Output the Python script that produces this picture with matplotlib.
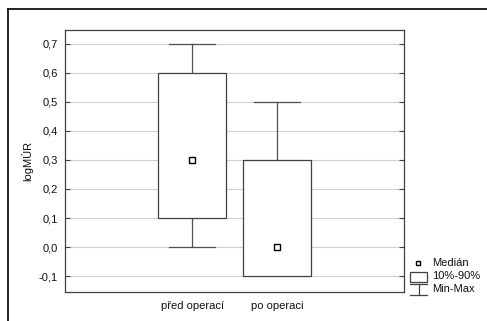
import matplotlib
matplotlib.use("Agg")
import matplotlib.pyplot as plt
from matplotlib.ticker import FuncFormatter, MultipleLocator
from matplotlib.patches import Rectangle
from matplotlib.lines import Line2D

categories = ["před operací", "po operaci"]
medians = [0.3, 0.0]
p10 = [0.1, -0.1]
p90 = [0.6, 0.3]
mins = [0.0, -0.1]
maxs = [0.7, 0.5]
positions = [1, 2]

plt.rcParams['font.family'] = ['Liberation Sans', 'DejaVu Sans']
fig = plt.figure(figsize=(4.87, 3.21), dpi=100)
W, H = 487, 321
ax = fig.add_axes([65 / W, 1 - 292 / H, (404 - 65) / W, (292 - 30) / H])

ax.set_xlim(-0.5, 3.5)
ax.set_ylim(-0.155, 0.748)
ax.yaxis.set_major_locator(MultipleLocator(0.1))
ax.yaxis.set_major_formatter(FuncFormatter(lambda v, p: f"{v:.1f}".replace('.', ',').replace('-0,0', '0,0')))
ax.grid(axis='y', color='#d0d0d0', linewidth=0.8, zorder=0)
ax.set_axisbelow(True)

bw = 0.8
cw = 0.55
for x, md, lo, hi, mn, mx in zip(positions, medians, p10, p90, mins, maxs):
    ax.add_patch(Rectangle((x - bw / 2, lo), bw, hi - lo, facecolor='white',
                           edgecolor='#404040', linewidth=0.9, zorder=3))
    if mx > hi:
        ax.plot([x, x], [hi, mx], color='#505050', lw=0.9, zorder=2)
        ax.plot([x - cw / 2, x + cw / 2], [mx, mx], color='#505050', lw=0.9, zorder=2)
    if mn < lo:
        ax.plot([x, x], [mn, lo], color='#505050', lw=0.9, zorder=2)
        ax.plot([x - cw / 2, x + cw / 2], [mn, mn], color='#505050', lw=0.9, zorder=2)
    ax.plot([x], [md], marker='s', markersize=4, markerfacecolor='white',
            markeredgecolor='black', markeredgewidth=1.0, linestyle='none', zorder=4)

ax.set_xticks(positions)
ax.set_xticklabels(categories, fontsize=8, color='#111111')
ax.tick_params(axis='x', length=0, pad=6.5)
ax.tick_params(axis='y', labelsize=8, length=3.5, direction='in', right=True,
               color='#404040', pad=5, labelcolor='#111111')
ax.set_ylabel("logMÚR", fontsize=8, labelpad=4, color='#111111')
for s in ax.spines.values():
    s.set_color('#404040')
    s.set_linewidth(0.9)

# legend
fig.add_artist(Rectangle((416 / W, 1 - 265 / H), 4 / W, 4 / H, transform=fig.transFigure,
                         facecolor='white', edgecolor='black', lw=1.0))
fig.text(432 / W, 1 - 263 / H, "Medián", fontsize=8, va='center', color='#111111')
fig.add_artist(Rectangle((410 / W, 1 - 282 / H), 17 / W, 10 / H, transform=fig.transFigure,
                         facecolor='white', edgecolor='#404040', lw=0.9))
fig.text(432 / W, 1 - 276 / H, "10%-90%", fontsize=8, va='center', color='#111111')
fig.add_artist(Line2D([410 / W, 427 / W], [1 - 284 / H, 1 - 284 / H], transform=fig.transFigure, color='#404040', lw=0.9))
fig.add_artist(Line2D([418.5 / W, 418.5 / W], [1 - 284 / H, 1 - 295 / H], transform=fig.transFigure, color='#404040', lw=0.9))
fig.add_artist(Line2D([410 / W, 427 / W], [1 - 295 / H, 1 - 295 / H], transform=fig.transFigure, color='#404040', lw=0.9))
fig.text(432 / W, 1 - 289 / H, "Min-Max", fontsize=8, va='center', color='#111111')

# outer frame
fig.add_artist(Line2D([8 / W, 1.0], [1 - 9 / H, 1 - 9 / H], transform=fig.transFigure, color='black', lw=1.2))
fig.add_artist(Line2D([8 / W, 8 / W], [1 - 9 / H, 0], transform=fig.transFigure, color='black', lw=1.2))

fig.savefig("out.png", dpi=100)
